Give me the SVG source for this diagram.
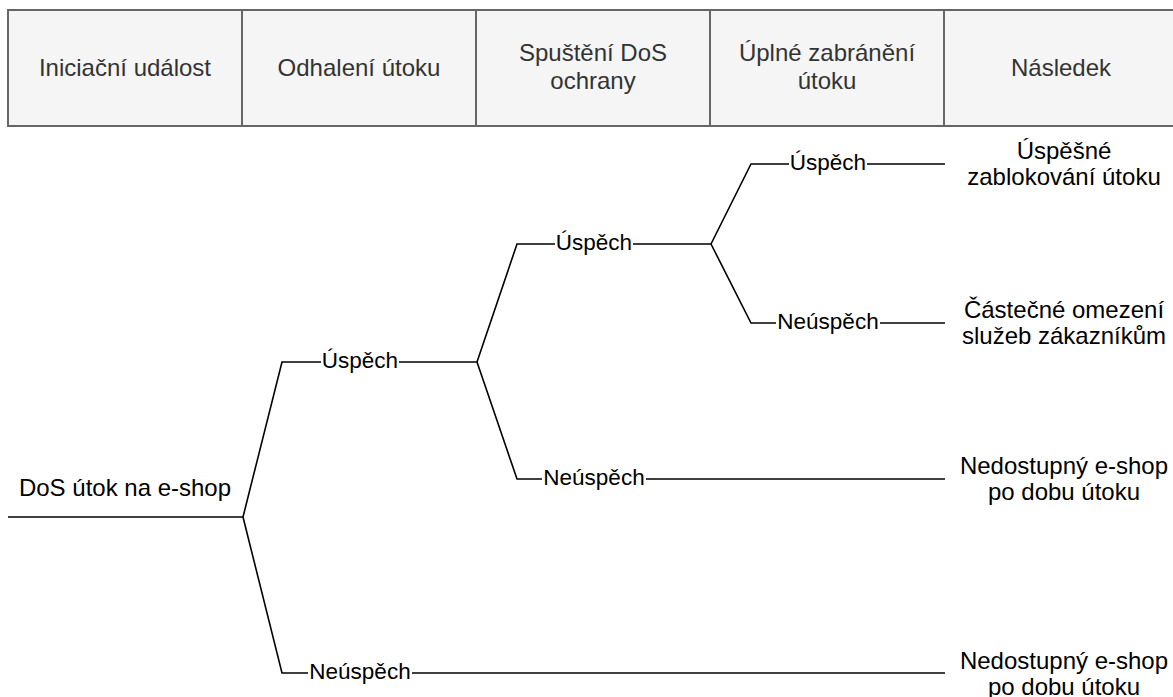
<svg xmlns="http://www.w3.org/2000/svg" width="1173" height="697" viewBox="0 0 1173 697">
<style>
.hdr{fill:#f5f5f5;stroke:#666666;stroke-width:2}
.ht{font-family:"Liberation Sans",Arial,sans-serif;font-size:24px;fill:#333333;text-anchor:middle}
.t{font-family:"Liberation Sans",Arial,sans-serif;font-size:24px;fill:#000000;text-anchor:middle}
.lbl{font-family:"Liberation Sans",Arial,sans-serif;font-size:22.5px;fill:#000000;text-anchor:middle}
.e{fill:none;stroke:#000000;stroke-width:1.6}
.lb{fill:#ffffff}
</style>
<rect width="1173" height="697" fill="#ffffff"/>
<g id="header">
<rect class="hdr" x="8" y="10" width="234" height="116"/>
<rect class="hdr" x="242" y="10" width="234" height="116"/>
<rect class="hdr" x="476" y="10" width="234" height="116"/>
<rect class="hdr" x="710" y="10" width="234" height="116"/>
<rect class="hdr" x="944" y="10" width="234" height="116"/>
<text class="ht" x="125" y="76">Iniciační událost</text>
<text class="ht" x="359" y="76">Odhalení útoku</text>
<text class="ht" x="593" y="61">Spuštění DoS</text>
<text class="ht" x="593" y="89">ochrany</text>
<text class="ht" x="827" y="61">Úplné zabránění</text>
<text class="ht" x="827" y="89">útoku</text>
<text class="ht" x="1061" y="76">Následek</text>
</g>
<g id="connectors">
<path class="e" d="M8,517 H243"/>
<path class="e" d="M243,517 L282,362 H477"/>
<path class="e" d="M243,517 L282,673 H945"/>
<path class="e" d="M477,362 L517,244 H711"/>
<path class="e" d="M477,362 L517,479 H945"/>
<path class="e" d="M711,244 L751,164 H945"/>
<path class="e" d="M711,244 L751,323 H945"/>
<rect class="lb" x="321" y="350" width="78" height="24"/>
<text class="lbl" x="360" y="368">Úspěch</text>
<rect class="lb" x="308" y="661" width="104" height="24"/>
<text class="lbl" x="360" y="679">Neúspěch</text>
<rect class="lb" x="555" y="232" width="78" height="24"/>
<text class="lbl" x="594" y="250">Úspěch</text>
<rect class="lb" x="542" y="467" width="104" height="24"/>
<text class="lbl" x="594" y="485">Neúspěch</text>
<rect class="lb" x="789" y="152" width="78" height="24"/>
<text class="lbl" x="828" y="170">Úspěch</text>
<rect class="lb" x="776" y="311" width="104" height="24"/>
<text class="lbl" x="828" y="329">Neúspěch</text>
</g>
<g id="root">
<text class="t" x="125" y="496">DoS útok na e-shop</text>
</g>
<g id="outcome1">
<text class="t" x="1064" y="159">Úspěšné</text>
<text class="t" x="1064" y="185">zablokování útoku</text>
</g>
<g id="outcome2">
<text class="t" x="1064" y="318">Částečné omezení</text>
<text class="t" x="1064" y="344">služeb zákazníkům</text>
</g>
<g id="outcome3">
<text class="t" x="1064" y="474">Nedostupný e-shop</text>
<text class="t" x="1064" y="500">po dobu útoku</text>
</g>
<g id="outcome4">
<text class="t" x="1064" y="669">Nedostupný e-shop</text>
<text class="t" x="1064" y="695">po dobu útoku</text>
</g>
</svg>
